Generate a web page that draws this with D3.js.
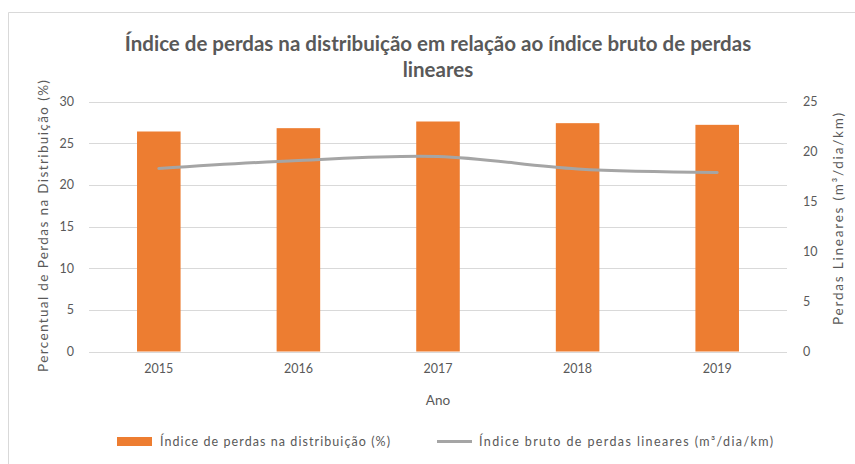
<!DOCTYPE html>
<html>
<head>
<meta charset="utf-8">
<script src="https://cdn.jsdelivr.net/npm/d3@7"></script>
<style>
  html, body { margin: 0; padding: 0; background: #fff; }
  svg { display: block; font-family: Lato, "Open Sans", sans-serif; }
</style>
</head>
<body>
<svg id="chart" width="855" height="464"></svg>
<script>
const categories = ["2015", "2016", "2017", "2018", "2019"];
const perdasDistribuicao = [26.4, 26.8, 27.6, 27.4, 27.2];
const perdasLineares = [18.3, 19.1, 19.5, 18.25, 17.9];
const leftTicks = [0, 5, 10, 15, 20, 25, 30];
const rightTicks = [0, 5, 10, 15, 20, 25];

const titleLines = ["Índice de perdas na distribuição em relação ao índice bruto de perdas", "lineares"];
const xTitle = "Ano";
const yLeftTitle = "Percentual de Perdas na Distribuição (%)";
const yRightTitle = "Perdas Lineares (m³/dia/km)";
const legendLabels = ["Índice de perdas na distribuição (%)", "Índice bruto de perdas lineares (m³/dia/km)"];

const svg = d3.select("#chart");
const W = 855, H = 464;
const plot = { left: 89, right: 787, top: 101.5, bottom: 351.5 };
const textColor = "#595959";
const barColor = "#ED7D31";
const lineColor = "#A5A5A5";
const gridColor = "#D9D9D9";

// outer frame
svg.append("path")
  .attr("d", `M8.5,${H} L8.5,12.5 L${W},12.5`)
  .attr("fill", "none").attr("stroke", "#D9D9D9").attr("stroke-width", 1);

const x = d3.scaleBand().domain(categories).range([plot.left, plot.right])
  .paddingInner(0.688).paddingOuter(0.344);
const yL = d3.scaleLinear().domain([0, 30]).range([plot.bottom, plot.top]);
const yR = d3.scaleLinear().domain([0, 25]).range([plot.bottom, plot.top]);

// gridlines
svg.append("g").selectAll("line").data(leftTicks).join("line")
  .attr("x1", plot.left).attr("x2", plot.right)
  .attr("y1", d => Math.round(yL(d)) + 0.5).attr("y2", d => Math.round(yL(d)) + 0.5)
  .attr("stroke", gridColor).attr("stroke-width", 1);

// left axis
const axL = svg.append("g").attr("transform", `translate(${plot.left},0)`)
  .call(d3.axisLeft(yL).tickValues(leftTicks).tickSize(0).tickPadding(15));
axL.select(".domain").remove();
axL.selectAll("text").attr("fill", textColor).attr("font-size", 12.5).attr("font-family", "Lato, sans-serif");

// right axis
const axR = svg.append("g").attr("transform", `translate(${plot.right},0)`)
  .call(d3.axisRight(yR).tickValues(rightTicks).tickSize(0).tickPadding(16));
axR.select(".domain").remove();
axR.selectAll("text").attr("fill", textColor).attr("font-size", 12.5).attr("font-family", "Lato, sans-serif");

// bottom axis
const axB = svg.append("g").attr("transform", `translate(0,${plot.bottom})`)
  .call(d3.axisBottom(x).tickSize(0).tickPadding(13));
axB.select(".domain").remove();
axB.selectAll("text").attr("fill", textColor).attr("font-size", 12.5).attr("font-family", "Lato, sans-serif");

// bars
svg.append("g").selectAll("rect").data(categories).join("rect")
  .attr("x", d => x(d)).attr("width", x.bandwidth())
  .attr("y", (d, i) => yL(perdasDistribuicao[i]))
  .attr("height", (d, i) => yL(0) - yL(perdasDistribuicao[i]))
  .attr("fill", barColor);

// line
const line = d3.line()
  .x((d, i) => x(categories[i]) + x.bandwidth() / 2)
  .y(d => yR(d))
  .curve(d3.curveCatmullRom.alpha(0.5));
svg.append("path").datum(perdasLineares)
  .attr("d", line).attr("fill", "none")
  .attr("stroke", lineColor).attr("stroke-width", 3).attr("stroke-linecap", "round");

// title
const cx = (plot.left + plot.right) / 2;
svg.append("g").selectAll("text").data(titleLines).join("text")
  .attr("x", cx).attr("y", (d, i) => 51 + i * 26)
  .attr("text-anchor", "middle").attr("font-size", 20.5).attr("font-weight", "bold")
  .attr("fill", textColor).text(d => d);

// axis titles
svg.append("text").attr("x", cx).attr("y", 405).attr("text-anchor", "middle")
  .attr("font-size", 13.5).attr("fill", textColor).text(xTitle);
svg.append("text").attr("transform", `translate(48,226) rotate(-90)`)
  .attr("text-anchor", "middle").attr("font-size", 13.5)
  .attr("textLength", 292).attr("lengthAdjust", "spacing")
  .attr("fill", textColor).text(yLeftTitle);
svg.append("text").attr("transform", `translate(843,219) rotate(-90)`)
  .attr("text-anchor", "middle").attr("font-size", 13.5)
  .attr("textLength", 212).attr("lengthAdjust", "spacing")
  .attr("fill", textColor).text(yRightTitle);

// legend
const lg = svg.append("g");
lg.append("rect").attr("x", 117).attr("y", 437).attr("width", 35).attr("height", 9).attr("fill", barColor);
lg.append("text").attr("x", 160).attr("y", 446).attr("font-size", 12.5)
  .attr("textLength", 230).attr("lengthAdjust", "spacing")
  .attr("fill", textColor).text(legendLabels[0]);
lg.append("line").attr("x1", 437).attr("x2", 472).attr("y1", 441.5).attr("y2", 441.5)
  .attr("stroke", lineColor).attr("stroke-width", 3);
lg.append("text").attr("x", 479).attr("y", 446).attr("font-size", 12.5)
  .attr("textLength", 294).attr("lengthAdjust", "spacing")
  .attr("fill", textColor).text(legendLabels[1]);
</script>
</body>
</html>
